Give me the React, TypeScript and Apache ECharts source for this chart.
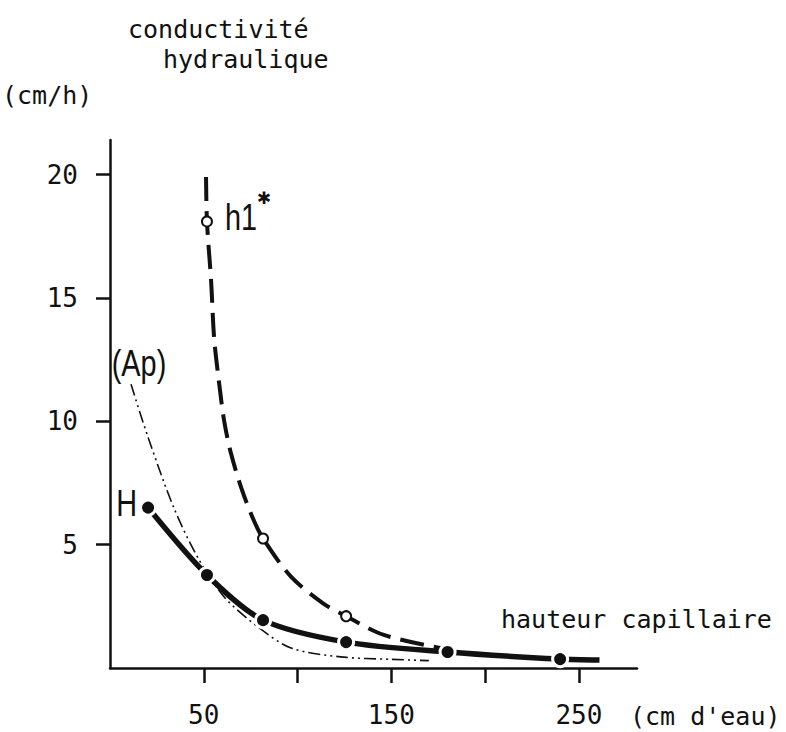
import React, { useEffect, useRef } from "react";
import * as echarts from "echarts";

// ---- data ----
// Curve H (solid, filled dots): measured points
const H_X = [20.3, 51.7, 81.6, 125.9, 180, 240];
const H_Y = [6.5, 3.77, 1.94, 1.05, 0.65, 0.36];
// tail of curve H beyond last measured point
const H_TAIL_X = [261];
const H_TAIL_Y = [0.32];

// Curve h1* (dashed, open circles): traced curve points and which carry a marker
const H1_X = [51.2, 51.7, 53.9, 55.5, 58, 60.9, 64.5, 70, 76, 81.6, 96.5, 114, 125.9, 146, 180];
const H1_Y = [19.9, 18.1, 15.7, 13.4, 11.66, 10, 8.7, 7.3, 6.1, 5.25, 3.7, 2.6, 2.1, 1.34, 0.75];
const H1_MARKED = [false, true, false, false, false, false, false, false, false, true, false, false, true, false, true];

// Curve (Ap) (dash-dot-dot, no markers)
const AP_X = [11.2, 20.3, 34, 47, 61, 79, 96.5, 123, 150, 170];
const AP_Y = [11.5, 9.35, 6.5, 4.45, 2.87, 1.66, 0.81, 0.45, 0.35, 0.3];

// axes
const X_TICKS = [50, 100, 150, 200, 250];
const X_LABELS = [50, 150, 250];
const Y_TICKS = [5, 10, 15, 20];
const Y_LABELS = [5, 10, 15, 20];

const TITLE_1 = "conductivité";
const TITLE_2 = "hydraulique";
const Y_UNIT = "(cm/h)";
const X_TITLE = "hauteur capillaire";
const X_UNIT = "(cm d'eau)";
const LABEL_H = "H";
const LABEL_H1 = "h1";
const LABEL_AP = "(Ap)";

const MONO = "'DejaVu Sans Mono', 'Liberation Mono', monospace";
const NARROW = "'Liberation Sans Narrow', 'Liberation Sans', Arial, sans-serif";
const INK = "#111";

export default function App() {
  const ref = useRef<HTMLDivElement>(null);

  useEffect(() => {
    if (!ref.current) return;
    const chart = echarts.init(ref.current, undefined, { renderer: "svg" });

    const hData: any[] = H_X.map((x, i) => ({ value: [x, H_Y[i]] }));
    H_TAIL_X.forEach((x, i) => hData.push({ value: [x, H_TAIL_Y[i]], symbol: "none" }));
    const h1Data = H1_X.map((x, i) =>
      H1_MARKED[i] ? { value: [x, H1_Y[i]] } : { value: [x, H1_Y[i]], symbol: "none" }
    );
    const apData = AP_X.map((x, i) => [x, AP_Y[i]]);

    const axisText = { fontFamily: MONO, fontSize: 26, color: INK };

    chart.setOption({
      animation: false,
      backgroundColor: "#fff",
      grid: { left: 110, right: 149, top: 140, bottom: 64, containLabel: false },
      xAxis: {
        type: "value",
        min: 0,
        max: 281,
        splitLine: { show: false },
        axisLine: { show: true, onZero: false, lineStyle: { color: INK, width: 2.5 } },
        axisTick: { show: true, length: 15, lineStyle: { color: INK, width: 2.5 }, customValues: X_TICKS },
        axisLabel: { ...axisText, margin: 34, customValues: X_LABELS },
      },
      yAxis: {
        type: "value",
        min: 0,
        max: 21.4,
        splitLine: { show: false },
        axisLine: { show: true, onZero: false, lineStyle: { color: INK, width: 2.5 } },
        axisTick: { show: true, length: 14, lineStyle: { color: INK, width: 2.5 }, customValues: Y_TICKS },
        axisLabel: { ...axisText, margin: 32, customValues: Y_LABELS },
      },
      series: [
        {
          name: "Ap",
          type: "line",
          data: apData,
          smooth: 0.3,
          symbol: "none",
          lineStyle: { color: INK, width: 1.6, type: [12, 4, 2, 4, 2, 4] },
          z: 2,
        },
        {
          name: "h1",
          type: "line",
          data: h1Data,
          smooth: 0.3,
          symbol: "circle",
          symbolSize: 10,
          showAllSymbol: true,
          itemStyle: { color: "#fff", borderColor: INK, borderWidth: 2 },
          lineStyle: { color: INK, width: 4, type: [24, 10] },
          z: 3,
        },
        {
          name: "H",
          type: "line",
          data: hData,
          smooth: 0.3,
          symbol: "circle",
          symbolSize: 15,
          showAllSymbol: true,
          itemStyle: { color: INK, borderColor: "#fff", borderWidth: 3 },
          lineStyle: { color: INK, width: 5.5 },
          z: 4,
        },
      ],
    });

    // annotations anchored to data points
    const pH = chart.convertToPixel({ gridIndex: 0 }, [H_X[0], H_Y[0]]) as number[];
    const pH1 = chart.convertToPixel({ gridIndex: 0 }, [H1_X[1], H1_Y[1]]) as number[];
    const pAp = chart.convertToPixel({ gridIndex: 0 }, [AP_X[0], AP_Y[0]]) as number[];

    const monoText = (text: string, x: number, y: number) => ({
      type: "text",
      x,
      y,
      style: { text, fill: INK, font: `25px ${MONO}`, textAlign: "left", textVerticalAlign: "middle" },
    });
    const narrowText = (text: string, x: number, y: number, align: string) => ({
      type: "text",
      x,
      y,
      scaleX: 0.78,
      style: { text, fill: INK, font: `37px ${NARROW}`, textAlign: align, textVerticalAlign: "middle" },
    });

    chart.setOption({
      graphic: [
        monoText(TITLE_1, 128, 29),
        monoText(TITLE_2, 163, 59),
        monoText(Y_UNIT, 2, 95),
        monoText(X_TITLE, 501, 619),
        monoText(X_UNIT, 630, 716),
        narrowText(LABEL_H1, pH1[0] + 18, pH1[1] - 4, "left"),
        {
          type: "text",
          x: pH1[0] + 57,
          y: pH1[1] - 23,
          style: { text: "✱", fill: INK, font: `bold 17px 'DejaVu Sans', sans-serif`, textAlign: "center", textVerticalAlign: "middle" },
        },
        narrowText(LABEL_H, pH[0] - 11, pH[1] - 4, "right"),
        narrowText(LABEL_AP, pAp[0] + 8, pAp[1] - 21, "center"),
      ],
    });

    return () => chart.dispose();
  }, []);

  return (
    <div
      ref={ref}
      style={{ position: "fixed", left: 0, top: 0, width: 786, height: 732, background: "#fff" }}
    />
  );
}
